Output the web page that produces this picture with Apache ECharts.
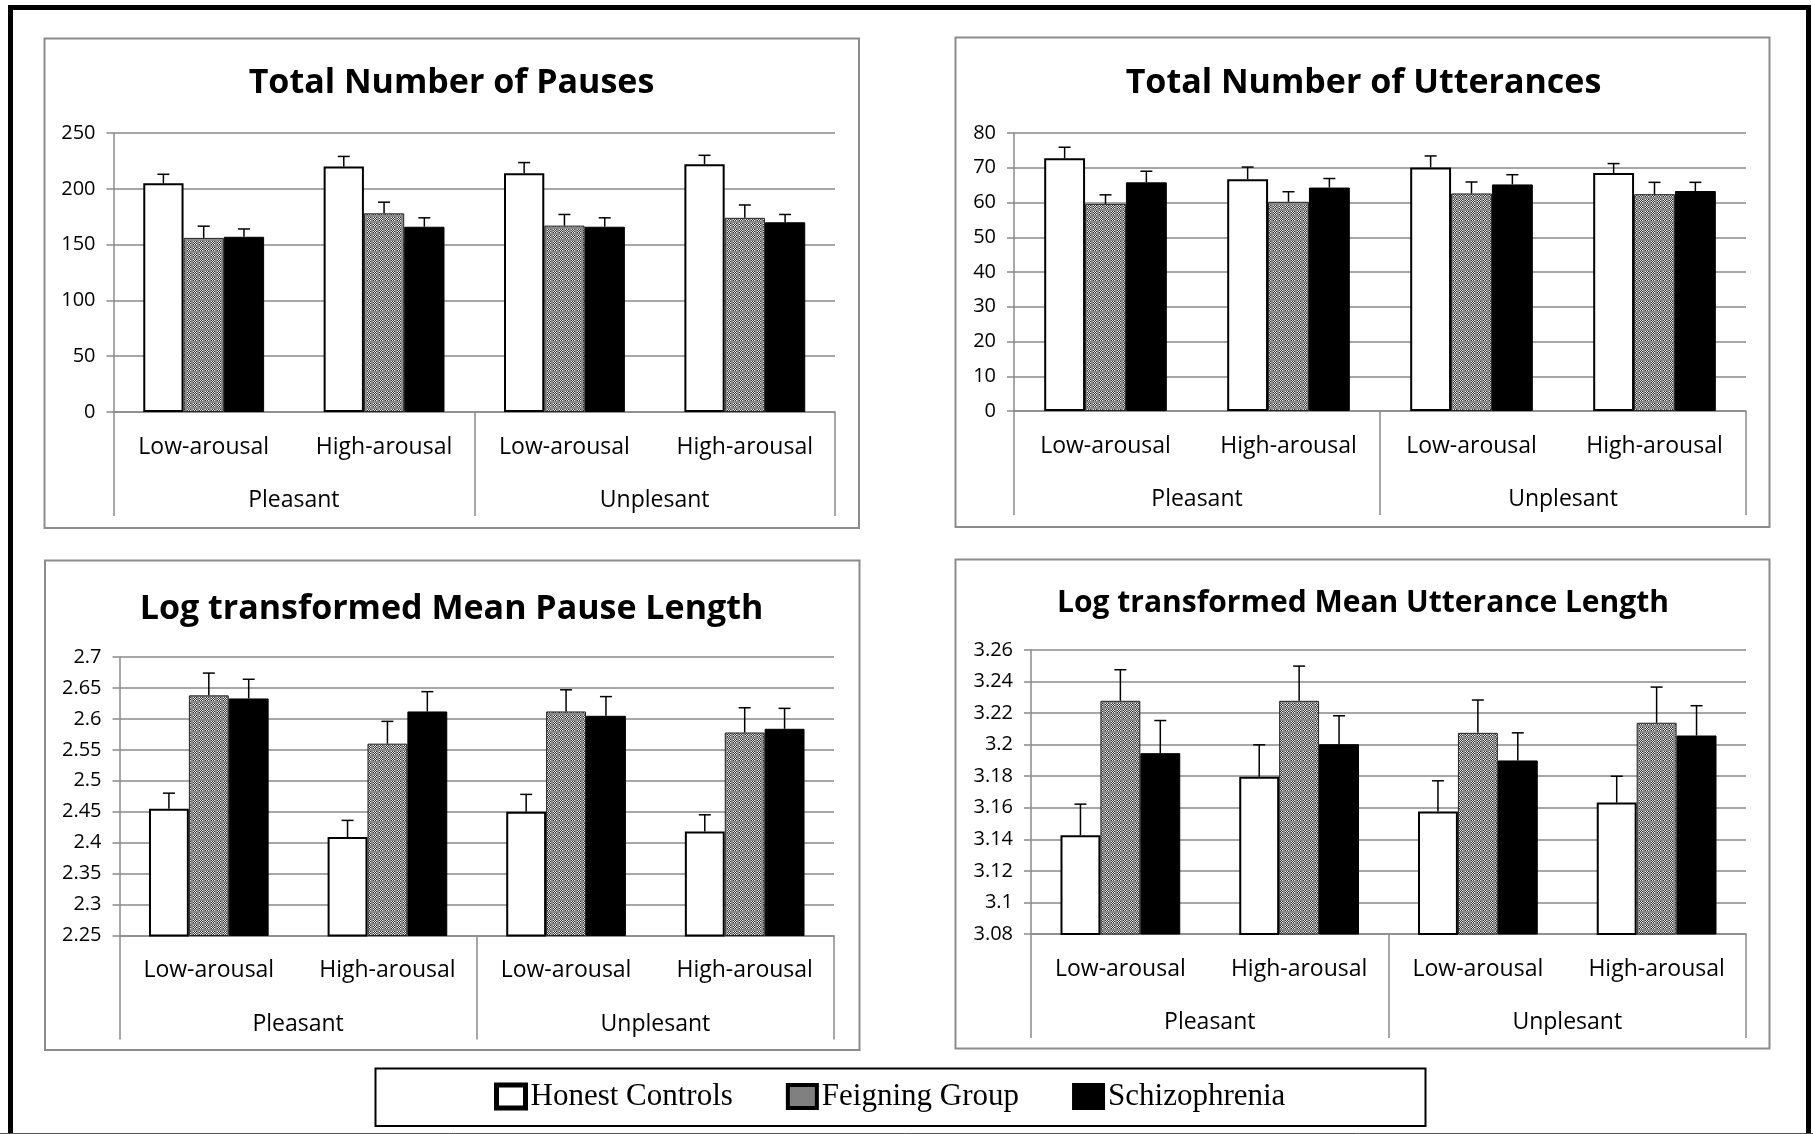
<!DOCTYPE html>
<html><head><meta charset="utf-8">
<script src="https://cdn.jsdelivr.net/npm/echarts@6/dist/echarts.min.js"></script>
<style>html,body{margin:0;padding:0;background:#fff}#c{width:1813px;height:1134px}</style>
</head><body><div id="c"></div>
<script>
// ---------- data ----------
const arousal = ['Low-arousal', 'High-arousal', 'Low-arousal', 'High-arousal'];
const valence = ['Pleasant', 'Unplesant'];
const groups = ['Honest Controls', 'Feigning Group', 'Schizophrenia'];
const titles = ['Total Number of Pauses', 'Total Number of Utterances',
                'Log transformed Mean Pause Length', 'Log transformed Mean Utterance Length'];

const pausesHC = [205, 220, 214, 222];
const pausesFG = [156, 178, 167, 174];
const pausesSZ = [157, 166, 166, 170];
const pausesHCerr = [8, 9, 9.5, 8];
const pausesFGerr = [10.5, 10, 10, 11.5];
const pausesSZerr = [7, 8, 8, 7];

const uttHC = [72.7, 66.7, 70.1, 68.5];
const uttFG = [59.6, 60.2, 62.6, 62.4];
const uttSZ = [65.8, 64.3, 65.2, 63.3];
const uttHCerr = [3.2, 3.5, 3.3, 2.7];
const uttFGerr = [2.6, 2.9, 3.3, 3.4];
const uttSZerr = [3.2, 2.6, 2.8, 2.5];

const mplHC = [2.455, 2.409, 2.450, 2.418];
const mplFG = [2.638, 2.560, 2.612, 2.578];
const mplSZ = [2.633, 2.612, 2.605, 2.584];
const mplHCerr = [0.025, 0.027, 0.028, 0.027];
const mplFGerr = [0.036, 0.036, 0.035, 0.040];
const mplSZerr = [0.031, 0.032, 0.031, 0.033];

const mulHC = [3.1426, 3.1796, 3.1576, 3.1633];
const mulFG = [3.2278, 3.2278, 3.2075, 3.2139];
const mulSZ = [3.1946, 3.2003, 3.1900, 3.2058];
const mulHCerr = [0.0197, 0.0203, 0.0195, 0.0167];
const mulFGerr = [0.0197, 0.0220, 0.0208, 0.0226];
const mulSZerr = [0.0207, 0.0180, 0.0175, 0.0189];

const yMin = [0, 0, 2.25, 3.08];
const yMax = [250, 80, 2.7, 3.26];
const yInterval = [50, 10, 0.05, 0.02];

// ---------- layout / style ----------
const panelData = [
  [[pausesHC, pausesHCerr], [pausesFG, pausesFGerr], [pausesSZ, pausesSZerr]],
  [[uttHC, uttHCerr], [uttFG, uttFGerr], [uttSZ, uttSZerr]],
  [[mplHC, mplHCerr], [mplFG, mplFGerr], [mplSZ, mplSZerr]],
  [[mulHC, mulHCerr], [mulFG, mulFGerr], [mulSZ, mulSZerr]]
];
const gridPos = [
  {left: 113.5, top: 133, width: 721.5, height: 279},
  {left: 1014, top: 133, width: 732, height: 278},
  {left: 119.5, top: 657, width: 714.5, height: 278.5},
  {left: 1031, top: 650, width: 715, height: 284}
];
const titlePos = [
  {x: 451.5, y: 83.5, size: 34},
  {x: 1363.5, y: 83, size: 34},
  {x: 451.5, y: 609, size: 34},
  {x: 1363, y: 603.5, size: 30}
];
const panelBorders = [
  [44.5, 38.5, 814.5, 489.5],
  [955.5, 37.5, 814, 489.5],
  [45, 560.5, 814.5, 489.5],
  [955.5, 559.5, 814, 489]
];
const SANS = "'Open Sans', 'Noto Sans', sans-serif";
const GRID_COLOR = '#8a8a8a';
const CAT_GAP = 0.33;

function makePattern() {
  const c = document.createElement('canvas');
  c.width = 6; c.height = 6;
  const ctx = c.getContext('2d');
  ctx.fillStyle = '#8a8a8a';
  ctx.fillRect(0, 0, 6, 6);
  for (let y = 0; y < 6; y++) for (let x = 0; x < 6; x++) {
    const d = Math.hypot(x + 0.5 - 3, y + 0.5 - 3);
    if (d < 2.4) {
      ctx.fillStyle = ((x + y) % 2) ? '#2e2e2e' : '#ececec';
      ctx.fillRect(x, y, 1, 1);
    }
  }
  return c;
}
const pattern = {image: makePattern(), repeat: 'repeat'};

const barStyles = [
  {color: '#ffffff', borderColor: '#000', borderWidth: 2},
  {color: pattern, borderColor: '#222', borderWidth: 1},
  {color: '#000000', borderColor: '#000', borderWidth: 1}
];

function errRender(gi) {
  return function (params, api) {
    const cat = api.value(0), v = api.value(1), e = api.value(2);
    const band = api.size([1, 0])[0];
    const bw = band * (1 - CAT_GAP) / 3;
    const base = api.coord([cat, v]);
    const top = api.coord([cat, v + e]);
    const x = base[0] + (gi - 1) * bw;
    return {
      type: 'group',
      children: [
        {type: 'line', shape: {x1: x, y1: base[1], x2: x, y2: top[1]}, style: {stroke: '#000', lineWidth: 1.5}},
        {type: 'line', shape: {x1: x - 6, y1: top[1], x2: x + 6, y2: top[1]}, style: {stroke: '#000', lineWidth: 1.5}}
      ]
    };
  };
}

const grid = [], xAxis = [], yAxis = [], series = [], title = [];
for (let p = 0; p < 4; p++) {
  grid.push(Object.assign({containLabel: false}, gridPos[p]));
  title.push({
    text: titles[p], left: titlePos[p].x, top: titlePos[p].y,
    textAlign: 'center', textVerticalAlign: 'middle', padding: 0,
    textStyle: {fontFamily: SANS, fontWeight: 'bold', fontSize: titlePos[p].size, color: '#000'}
  });
  xAxis.push({
    type: 'category', gridIndex: p, data: arousal, position: 'bottom',
    axisLine: {show: true, onZero: false, lineStyle: {color: GRID_COLOR, width: 1.5}},
    axisTick: {show: false},
    axisLabel: {margin: 35, verticalAlign: 'middle', fontFamily: SANS, fontSize: 23, color: '#000', interval: 0},
    splitLine: {show: false}
  });
  xAxis.push({
    type: 'category', gridIndex: p, data: valence, position: 'bottom',
    axisLine: {show: false},
    axisTick: {show: true, length: 104, interval: 0, lineStyle: {color: GRID_COLOR, width: 1.5}},
    axisLabel: {margin: 88.5, verticalAlign: 'middle', fontFamily: SANS, fontSize: 23, color: '#000', interval: 0},
    splitLine: {show: false}
  });
  yAxis.push({
    type: 'value', gridIndex: p, min: yMin[p], max: yMax[p], interval: yInterval[p],
    axisLine: {show: true, lineStyle: {color: GRID_COLOR, width: 1.5}},
    axisTick: {show: true, length: 7, lineStyle: {color: GRID_COLOR, width: 1.5}},
    axisLabel: {margin: 18, fontFamily: SANS, fontSize: 20, color: '#000'},
    splitLine: {show: true, lineStyle: {color: GRID_COLOR, width: 1.5}}
  });
  for (let g = 0; g < 3; g++) {
    const vals = panelData[p][g][0];
    series.push({
      name: groups[g], type: 'bar', xAxisIndex: p * 2, yAxisIndex: p,
      data: vals, barGap: '0%', barCategoryGap: (CAT_GAP * 100) + '%',
      itemStyle: barStyles[g], clip: true, z: 2, silent: true
    });
  }
  for (let g = 0; g < 3; g++) {
    const vals = panelData[p][g][0];
    const errs = panelData[p][g][1];
    series.push({
      name: 'err' + p + g, type: 'custom', xAxisIndex: p * 2, yAxisIndex: p,
      data: vals.map((v, i) => [i, v, errs[i]]),
      renderItem: errRender(g), z: 3, silent: true
    });
  }
}

const graphic = [
  {type: 'rect', shape: {x: 10.5, y: 7.5, width: 1798, height: 1145}, style: {fill: null, stroke: '#000', lineWidth: 5}, silent: true, z: -10},
  {type: 'line', shape: {x1: 0, y1: 1133.5, x2: 1813, y2: 1133.5}, style: {stroke: '#555', lineWidth: 1}, silent: true},
  {type: 'rect', shape: {x: 375.5, y: 1068.5, width: 1050, height: 57.5}, style: {fill: '#fff', stroke: '#000', lineWidth: 2}, silent: true, z: -5}
];
panelBorders.forEach(b => graphic.push({
  type: 'rect', shape: {x: b[0], y: b[1], width: b[2], height: b[3]},
  style: {fill: null, stroke: '#8c8c8c', lineWidth: 2}, silent: true, z: -10
}));

const chart = echarts.init(document.getElementById('c'), null, {renderer: 'canvas'});
chart.setOption({
  animation: false,
  backgroundColor: '#fff',
  title, grid, xAxis, yAxis, series, graphic,
  legend: {
    data: [
      {name: groups[0], itemStyle: {color: '#fff', borderColor: '#000', borderWidth: 5}},
      {name: groups[1], itemStyle: {color: '#808080', borderColor: '#000', borderWidth: 4}},
      {name: groups[2], itemStyle: {color: '#000', borderColor: '#000', borderWidth: 4}}
    ],
    icon: 'rect', left: 494, top: 1081, padding: 0,
    itemWidth: 29, itemHeight: 23, itemGap: 53, selectedMode: false,
    textStyle: {fontFamily: "'Liberation Serif', serif", fontSize: 31, color: '#000'}
  }
});
</script>
</body></html>
